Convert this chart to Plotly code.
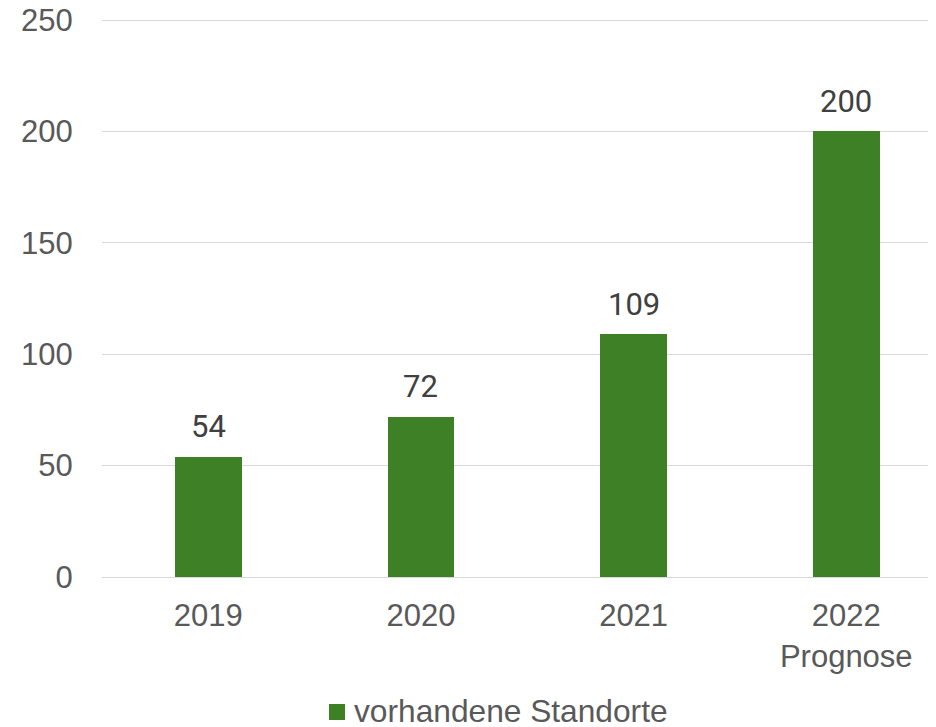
import plotly.graph_objects as go

categories = ["2019", "2020", "2021", "2022<br>Prognose"]
values = [54, 72, 109, 200]
series_name = "vorhandene Standorte"
y_ticks = [0, 50, 100, 150, 200, 250]

bar_color = "#3d8026"
tick_color = "#595959"

# the page body adds an 8px offset, so the figure is sized to fit the window
FIG_W, FIG_H = 928, 719
L, T, B = 94, 10, 150
H = FIG_H - T - B
W = FIG_W - L
OFF = 8


def px_x(px):
    return (px - OFF - L) / W


def px_y(py):
    return (FIG_H - B - (py - OFF)) / H


fig = go.Figure()
fig.add_trace(go.Bar(
    x=list(range(len(categories))),
    y=values,
    name=series_name,
    marker=dict(color=bar_color, line=dict(width=0)),
    width=0.313,
    showlegend=False,
))

for i, v in enumerate(values):
    fig.add_annotation(
        x=i, y=v, text=str(v), showarrow=False,
        yanchor="middle", yshift=30,
        font=dict(family="Roboto", size=31, color="#404040"),
    )

# legend (custom, to match swatch size and spacing)
fig.add_shape(type="rect", xref="paper", yref="paper",
              x0=px_x(329), x1=px_x(345), y0=px_y(720), y1=px_y(704),
              fillcolor=bar_color, line=dict(width=0))
fig.add_annotation(xref="paper", yref="paper", x=px_x(352), y=px_y(711),
                   xanchor="left", yanchor="middle", showarrow=False,
                   text=series_name,
                   font=dict(family="Liberation Sans, Arial", size=31.7, color=tick_color))

fig.update_layout(
    width=FIG_W, height=FIG_H,
    margin=dict(l=L, r=0, t=T, b=B, autoexpand=False),
    plot_bgcolor="white", paper_bgcolor="white",
    font=dict(family="Liberation Sans, Arial", size=31, color=tick_color),
    bargap=0,
    showlegend=False,
    xaxis=dict(
        tickmode="array",
        tickvals=list(range(len(categories))),
        ticktext=categories,
        range=[-0.5, 3.422],
        showgrid=False, zeroline=False, showline=False,
        ticks="outside", ticklen=11, tickcolor="rgba(0,0,0,0)",
        tickfont=dict(family="Liberation Sans, Arial", size=31, color=tick_color),
        ticklabeloverflow="allow",
        fixedrange=True,
    ),
    yaxis=dict(
        range=[0, 250.9],
        tickvals=y_ticks,
        showgrid=True, gridcolor="#d9d9d9", gridwidth=1.3,
        zeroline=True, zerolinecolor="#d9d9d9", zerolinewidth=1.3,
        showline=False,
        ticks="outside", ticklen=22, tickcolor="rgba(0,0,0,0)",
        tickfont=dict(family="Liberation Sans, Arial", size=31, color=tick_color),
        ticklabeloverflow="allow",
        fixedrange=True,
    ),
)

fig.write_html("out.html")
